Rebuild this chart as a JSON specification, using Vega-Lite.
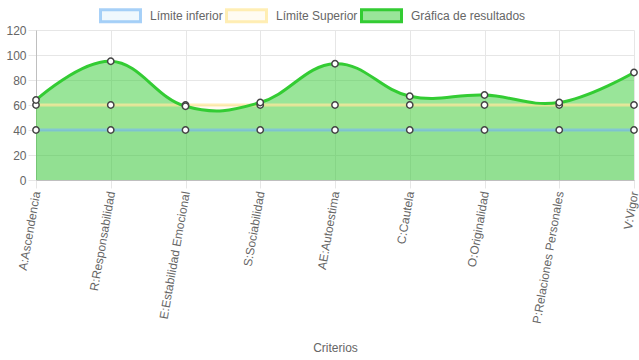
{
  "$schema": "https://vega.github.io/schema/vega-lite/v6.json",
  "width": 598,
  "height": 150,
  "autosize": {"type": "none"},
  "padding": {"left": 36, "top": 30, "right": 5, "bottom": 180},
  "background": "white",
  "config": {
    "font": "Liberation Sans",
    "view": {"stroke": null},
    "axis": {
      "labelFont": "Liberation Sans",
      "labelFontSize": 12,
      "labelColor": "#666666",
      "titleFont": "Liberation Sans",
      "titleFontSize": 12,
      "titleFontWeight": "normal",
      "titleColor": "#666666",
      "gridColor": "#e6e6e6",
      "tickColor": "#e6e6e6",
      "tickSize": 8,
      "domainColor": "#bfbfbf"
    },
    "legend": {
      "labelFont": "Liberation Sans",
      "labelFontSize": 12,
      "labelColor": "#666666"
    }
  },
  "data": {
    "values": [
      {"criterio": "A:Ascendencia", "serie": "Límite inferior", "valor": 40},
      {"criterio": "R:Responsabilidad", "serie": "Límite inferior", "valor": 40},
      {"criterio": "E:Estabilidad Emocional", "serie": "Límite inferior", "valor": 40},
      {"criterio": "S:Sociabilidad", "serie": "Límite inferior", "valor": 40},
      {"criterio": "AE:Autoestima", "serie": "Límite inferior", "valor": 40},
      {"criterio": "C:Cautela", "serie": "Límite inferior", "valor": 40},
      {"criterio": "O:Originalidad", "serie": "Límite inferior", "valor": 40},
      {"criterio": "P:Relaciones Personales", "serie": "Límite inferior", "valor": 40},
      {"criterio": "V:Vigor", "serie": "Límite inferior", "valor": 40},
      {"criterio": "A:Ascendencia", "serie": "Límite Superior", "valor": 60},
      {"criterio": "R:Responsabilidad", "serie": "Límite Superior", "valor": 60},
      {"criterio": "E:Estabilidad Emocional", "serie": "Límite Superior", "valor": 60},
      {"criterio": "S:Sociabilidad", "serie": "Límite Superior", "valor": 60},
      {"criterio": "AE:Autoestima", "serie": "Límite Superior", "valor": 60},
      {"criterio": "C:Cautela", "serie": "Límite Superior", "valor": 60},
      {"criterio": "O:Originalidad", "serie": "Límite Superior", "valor": 60},
      {"criterio": "P:Relaciones Personales", "serie": "Límite Superior", "valor": 60},
      {"criterio": "V:Vigor", "serie": "Límite Superior", "valor": 60},
      {"criterio": "A:Ascendencia", "serie": "Gráfica de resultados", "valor": 64},
      {"criterio": "R:Responsabilidad", "serie": "Gráfica de resultados", "valor": 95},
      {"criterio": "E:Estabilidad Emocional", "serie": "Gráfica de resultados", "valor": 59},
      {"criterio": "S:Sociabilidad", "serie": "Gráfica de resultados", "valor": 62},
      {"criterio": "AE:Autoestima", "serie": "Gráfica de resultados", "valor": 93},
      {"criterio": "C:Cautela", "serie": "Gráfica de resultados", "valor": 67},
      {"criterio": "O:Originalidad", "serie": "Gráfica de resultados", "valor": 68},
      {"criterio": "P:Relaciones Personales", "serie": "Gráfica de resultados", "valor": 62},
      {"criterio": "V:Vigor", "serie": "Gráfica de resultados", "valor": 86}
    ]
  },
  "encoding": {
    "x": {
      "field": "criterio",
      "type": "nominal",
      "sort": null,
      "scale": {"type": "point", "padding": 0},
      "axis": {"title": "Criterios", "labelAngle": -80, "labelPadding": 3, "titlePadding": 18, "grid": true}
    },
    "y": {
      "field": "valor",
      "type": "quantitative",
      "scale": {"domain": [0, 120]},
      "axis": {"title": null, "values": [0, 20, 40, 60, 80, 100, 120], "labelPadding": 2}
    }
  },
  "layer": [
    {
      "mark": {"type": "area", "interpolate": "cardinal", "tension": -0.2},
      "encoding": {
        "y": {"field": "valor", "type": "quantitative", "stack": null},
        "fill": {
          "field": "serie",
          "type": "nominal",
          "scale": {
            "domain": ["Gráfica de resultados", "Límite Superior", "Límite inferior"],
            "range": ["rgba(51,204,51,0.5)", "rgba(255,206,86,0.08)", "rgba(54,162,235,0.08)"]
          },
          "legend": null
        }
      }
    },
    {
      "mark": {"type": "line", "interpolate": "cardinal", "tension": -0.2, "strokeWidth": 3},
      "encoding": {
        "stroke": {
          "field": "serie",
          "type": "nominal",
          "scale": {
            "domain": ["Límite inferior", "Límite Superior", "Gráfica de resultados"],
            "range": ["rgba(121,185,245,0.65)", "rgba(255,232,156,0.75)", "#33cc33"]
          },
          "legend": {
            "title": null,
            "orient": "none",
            "direction": "horizontal",
            "legendX": 63,
            "legendY": -36,
            "symbolType": "M-1,-0.3H1V0.3H-1Z",
            "symbolSize": 1600,
            "symbolStrokeWidth": 3,
            "labelOffset": 8,
            "columnPadding": -3,
            "encode": {
              "symbols": {
                "update": {
                  "fill": {"scale": "fill", "field": "value"},
                  "fillOpacity": {"value": 1}
                }
              }
            }
          }
        }
      }
    },
    {
      "mark": {"type": "point", "filled": true, "fill": "white", "stroke": "#444444", "strokeWidth": 1.5, "size": 40, "opacity": 1}
    }
  ]
}
